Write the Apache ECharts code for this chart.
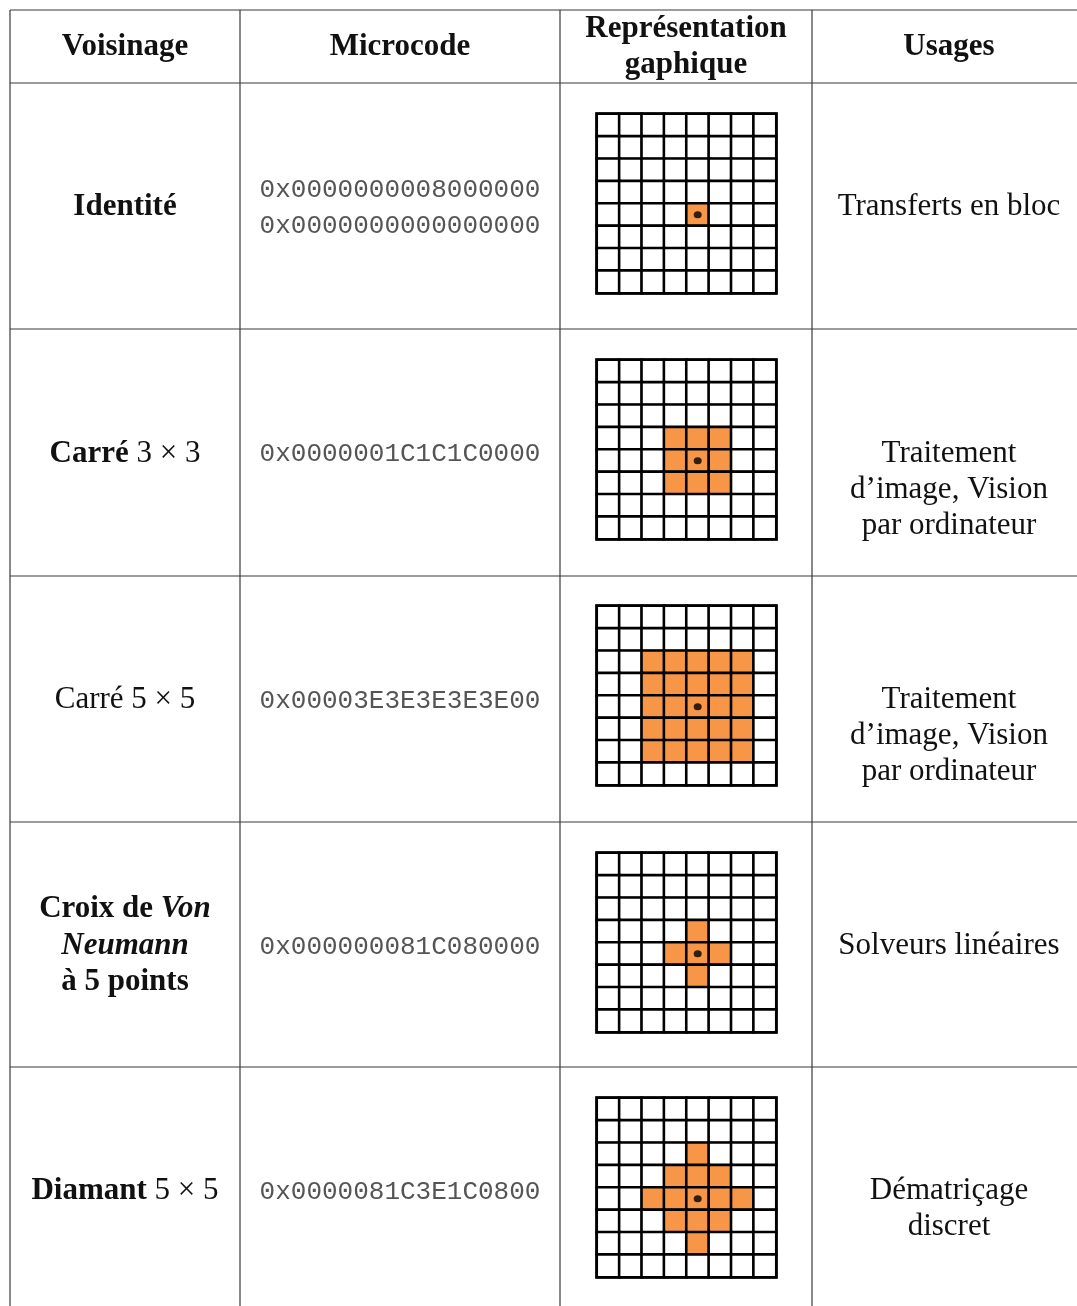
<!DOCTYPE html>
<html>
<head>
<meta charset="utf-8">
<script src="https://cdn.jsdelivr.net/npm/echarts@6/dist/echarts.min.js"></script>
<style>
html,body{margin:0;padding:0;background:#fff;}
#main{width:1077px;height:1306px;}
</style>
</head>
<body>
<div id="main"></div>
<script>
// ---------- data ----------
const headers = ['Voisinage', 'Microcode', 'Représentation|gaphique', 'Usages'];
const neighbourhoods = ['Identité', 'Carré 3 × 3', 'Carré 5 × 5', 'Croix de Von Neumann à 5 points', 'Diamant 5 × 5'];
const microcodes = [
  ['0x0000000008000000', '0x0000000000000000'],
  ['0x0000001C1C1C0000'],
  ['0x00003E3E3E3E3E00'],
  ['0x000000081C080000'],
  ['0x0000081C3E1C0800']
];
const usages = [
  ['Transferts en bloc'],
  ['Traitement', 'd’image, Vision', 'par ordinateur'],
  ['Traitement', 'd’image, Vision', 'par ordinateur'],
  ['Solveurs linéaires'],
  ['Dématriçage', 'discret']
];
const gridCols = ['0', '1', '2', '3', '4', '5', '6', '7'];
const gridRows = ['0', '1', '2', '3', '4', '5', '6', '7'];
// orange cells as [col, row]
const identityCells = [[4, 4]];
const square3Cells = [[3,3],[4,3],[5,3],[3,4],[4,4],[5,4],[3,5],[4,5],[5,5]];
const square5Cells = [
  [2,2],[3,2],[4,2],[5,2],[6,2],
  [2,3],[3,3],[4,3],[5,3],[6,3],
  [2,4],[3,4],[4,4],[5,4],[6,4],
  [2,5],[3,5],[4,5],[5,5],[6,5],
  [2,6],[3,6],[4,6],[5,6],[6,6]
];
const vonNeumannCells = [[4,3],[3,4],[4,4],[5,4],[4,5]];
const diamondCells = [[4,2],[3,3],[4,3],[5,3],[2,4],[3,4],[4,4],[5,4],[6,4],[3,5],[4,5],[5,5],[4,6]];
const centreCells = [[4,4],[4,4],[4,4],[4,4],[4,4]];
const allCells = [identityCells, square3Cells, square5Cells, vonNeumannCells, diamondCells];

// ---------- layout ----------
const colX = [10, 240, 560, 812, 1077];
const rowY = [10, 83, 329, 576, 822, 1067, 1306];
const colCenter = [125, 400, 686, 949];
const gridTops = [114, 360, 606, 853, 1098];
const ORANGE = '#f79646';
const SERIF = '"Liberation Serif", "DejaVu Serif", serif';
const MONO = '"Liberation Mono", "DejaVu Sans Mono", monospace';
const FS = 31;
const LINE = 36;
const DY = 2;

const chart = echarts.init(document.getElementById('main'), null, {renderer: 'canvas'});

const grids = [], xAxes = [], yAxes = [], series = [];
allCells.forEach((cells, i) => {
  grids.push({left: 597, top: gridTops[i], width: 179, height: 179,
    show: true, borderColor: '#000', borderWidth: 3.5, backgroundColor: '#fff', containLabel: false});
  const axBase = {type: 'category', gridIndex: i,
    axisLine: {show: false}, axisTick: {show: false}, axisLabel: {show: false}, splitLine: {show: false}};
  xAxes.push(Object.assign({data: gridCols}, axBase));
  yAxes.push(Object.assign({data: gridRows, inverse: true}, axBase));
  const data = [];
  gridRows.forEach((r, ri) => gridCols.forEach((c, ci) => {
    const on = cells.some(p => p[0] === ci && p[1] === ri) ? 1 : 0;
    data.push([ci, ri, on]);
  }));
  series.push({type: 'heatmap', xAxisIndex: i, yAxisIndex: i, data: data,
    itemStyle: {borderColor: '#000', borderWidth: 2.6},
    emphasis: {disabled: true}, silent: true, z: 2});
});
allCells.forEach((cells, i) => {
  series.push({type: 'scatter', xAxisIndex: i, yAxisIndex: i, data: [centreCells[i]],
    symbol: 'circle', symbolSize: [8, 7], itemStyle: {color: '#000'}, silent: true, z: 5});
});

// ---------- table lines & text ----------
const graphics = [];
const lineStyle = {stroke: '#3a3a3a', lineWidth: 1.2};
rowY.slice(0, 6).forEach(y => graphics.push({type: 'line', shape: {x1: 10, y1: y, x2: 1077, y2: y}, style: lineStyle, silent: true}));
colX.slice(0, 4).forEach(x => graphics.push({type: 'line', shape: {x1: x, y1: 10, x2: x, y2: 1306}, style: lineStyle, silent: true}));

function txt(x, y, text, font, rich) {
  const o = {type: 'text', x: x, y: y + DY, silent: true,
    style: Object.assign({text: text, align: 'center', verticalAlign: 'middle', fill: '#111'}, font)};
  if (rich) o.style.rich = rich;
  graphics.push(o);
}
const reg = {fontFamily: SERIF, fontSize: FS};
const bold = {fontFamily: SERIF, fontSize: FS, fontWeight: 'bold'};
const mono = {fontFamily: MONO, fontSize: 26, fill: '#555'};

// headers
txt(colCenter[0], 45, headers[0], bold);
txt(colCenter[1], 45, headers[1], bold);
const h3 = headers[2].split('|');
txt(colCenter[2], 27, h3[0], bold);
txt(colCenter[2], 63, h3[1], bold);
txt(colCenter[3], 45, headers[3], bold);

const richStyles = {
  b: {fontFamily: SERIF, fontSize: FS, fontWeight: 'bold', fill: '#111'},
  r: {fontFamily: SERIF, fontSize: FS, fill: '#111'},
  bi: {fontFamily: SERIF, fontSize: FS, fontWeight: 'bold', fontStyle: 'italic', fill: '#111'}
};
// first column
txt(colCenter[0], 205, neighbourhoods[0], bold);
txt(colCenter[0], 452, '{b|Carré} {r|3 × 3}', {fontFamily: SERIF, fontSize: FS}, richStyles);
txt(colCenter[0], 698, neighbourhoods[2], reg);
txt(colCenter[0], 907, '{b|Croix de} {bi|Von}', {fontFamily: SERIF, fontSize: FS}, richStyles);
txt(colCenter[0], 944, '{bi|Neumann}', {fontFamily: SERIF, fontSize: FS}, richStyles);
txt(colCenter[0], 980, '{b|à 5 points}', {fontFamily: SERIF, fontSize: FS}, richStyles);
txt(colCenter[0], 1189, '{b|Diamant} {r|5 × 5}', {fontFamily: SERIF, fontSize: FS}, richStyles);

// microcode
const microY = [[188, 224], [452], [699], [945], [1190]];
microcodes.forEach((m, i) => m.forEach((s, k) => txt(colCenter[1], microY[i][k], s, mono)));

// usages
const usageY = [205, 452, 698, 944, 1189];
usages.forEach((u, i) => u.forEach((s, k) => txt(colCenter[3], usageY[i] + k * LINE, s, reg)));

chart.setOption({
  animation: false,
  backgroundColor: '#fff',
  grid: grids,
  xAxis: xAxes,
  yAxis: yAxes,
  visualMap: {type: 'piecewise', show: false, dimension: 2, seriesIndex: [0,1,2,3,4],
    pieces: [{value: 0, color: '#ffffff'}, {value: 1, color: ORANGE}]},
  series: series,
  graphic: graphics
});
</script>
</body>
</html>
